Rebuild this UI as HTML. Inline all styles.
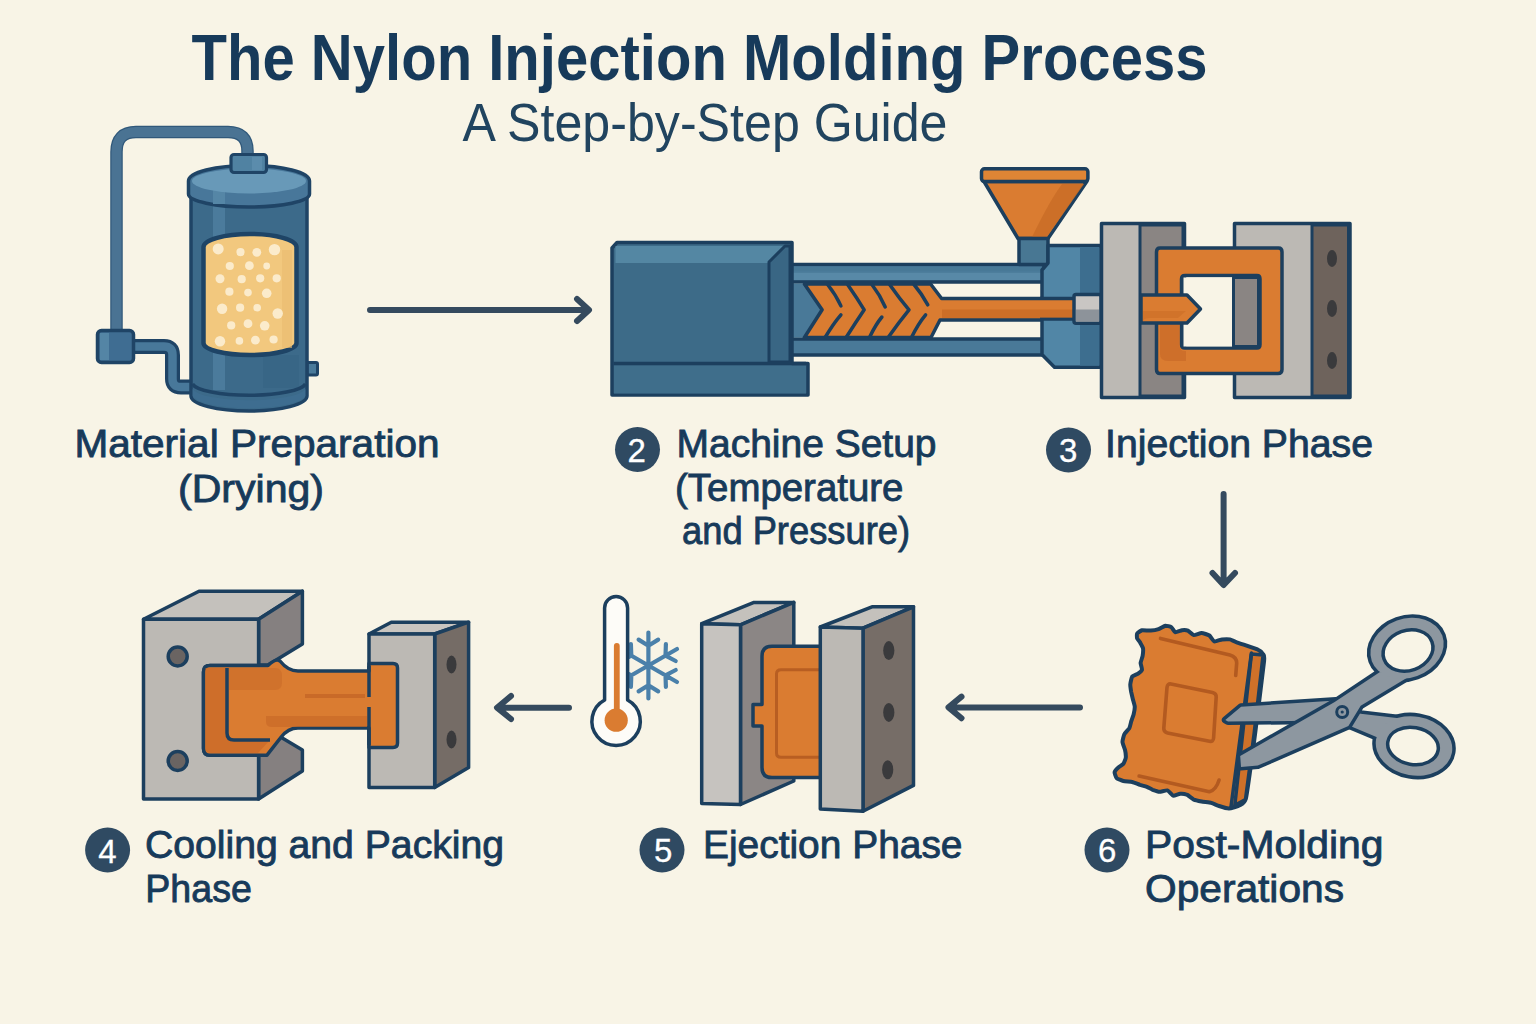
<!DOCTYPE html>
<html><head><meta charset="utf-8">
<style>
html,body{margin:0;padding:0;background:#F8F4E6;}
body{width:1536px;height:1024px;overflow:hidden;}
svg{display:block;}
.t{font-family:"Liberation Sans",sans-serif;fill:#173A5A;}
.lb{font-size:38px;stroke:#173A5A;stroke-width:0.85px;}
.num{font-family:"Liberation Sans",sans-serif;fill:#fff;font-size:33px;stroke:#fff;stroke-width:0.3px;}
</style></head>
<body>
<svg width="1536" height="1024" viewBox="0 0 1536 1024">
<rect width="1536" height="1024" fill="#F8F4E6"/>
<!-- TITLE -->
<text class="t" x="191.5" y="79.8" font-size="64.8" font-weight="bold" textLength="1016" lengthAdjust="spacingAndGlyphs">The Nylon Injection Molding Process</text>
<text class="t" x="462.5" y="140.7" font-size="52.9" textLength="485" lengthAdjust="spacingAndGlyphs" style="fill:#21445F">A Step-by-Step Guide</text>

<!-- ARROWS -->
<g fill="none" stroke="#354A5E" stroke-width="6" stroke-linecap="round" stroke-linejoin="round">
<path d="M370 310 H588 M577 299 L589 310 L577 321"/>
<path d="M1223.6 494 V584 M1212.5 573 L1223.6 585 L1235 573"/>
<path d="M569 707.7 H499 M511 696 L497 707.7 L511 719"/>
<path d="M1080 707.4 H950 M961.5 696.6 L948.5 707.4 L961.5 718.2"/>
</g>

<!-- LABELS -->
<text class="t lb" x="74.5" y="457.0" textLength="365" lengthAdjust="spacingAndGlyphs">Material Preparation</text>
<text class="t lb" x="178" y="502.0" textLength="146" lengthAdjust="spacingAndGlyphs">(Drying)</text>

<circle cx="637.5" cy="449.5" r="22.5" fill="#2F4A62"/>
<text class="num" x="636.7" y="461.7" text-anchor="middle">2</text>
<text class="t lb" x="676.5" y="457.0" textLength="260" lengthAdjust="spacingAndGlyphs">Machine Setup</text>
<text class="t lb" x="675" y="501.0" textLength="228.5" lengthAdjust="spacingAndGlyphs">(Temperature</text>
<text class="t lb" x="682" y="543.5" textLength="228" lengthAdjust="spacingAndGlyphs">and Pressure)</text>

<circle cx="1068.5" cy="450" r="22.5" fill="#2F4A62"/>
<text class="num" x="1068.1" y="462.2" text-anchor="middle">3</text>
<text class="t lb" x="1105" y="457.0" textLength="268" lengthAdjust="spacingAndGlyphs">Injection Phase</text>

<circle cx="107.6" cy="850" r="22.5" fill="#2F4A62"/>
<text class="num" x="107.4" y="862.5" text-anchor="middle">4</text>
<text class="t lb" x="145" y="857.5" textLength="359" lengthAdjust="spacingAndGlyphs">Cooling and Packing</text>
<text class="t lb" x="145.3" y="902.0" textLength="106.5" lengthAdjust="spacingAndGlyphs">Phase</text>

<circle cx="662" cy="850" r="22.5" fill="#2F4A62"/>
<text class="num" x="663.3" y="862" text-anchor="middle">5</text>
<text class="t lb" x="703" y="858.0" textLength="259.5" lengthAdjust="spacingAndGlyphs">Ejection Phase</text>

<circle cx="1107" cy="850" r="22.5" fill="#2F4A62"/>
<text class="num" x="1107.1" y="861.6" text-anchor="middle">6</text>
<text class="t lb" x="1145" y="857.5" textLength="238.5" lengthAdjust="spacingAndGlyphs">Post-Molding</text>
<text class="t lb" x="1145" y="902.0" textLength="199" lengthAdjust="spacingAndGlyphs">Operations</text>


<!-- STEP1 DRYER -->
<g id="dryer" stroke-linejoin="round">
<path d="M116.5 332 V152 Q116.5 132 136 132 H228 Q247.5 132 247.5 151 V156" fill="none" stroke="#30587A" stroke-width="12.5"/>
<path d="M116.5 332 V152 Q116.5 132 136 132 H228 Q247.5 132 247.5 151 V156" fill="none" stroke="#4A7393" stroke-width="10"/>
<path d="M133 346.5 H164 Q172.5 346.5 172.5 355 V379 Q172.5 387 181 387 H193" fill="none" stroke="#1F4466" stroke-width="15"/>
<path d="M133 346.5 H164 Q172.5 346.5 172.5 355 V379 Q172.5 387 181 387 H193" fill="none" stroke="#48789A" stroke-width="8.5"/>
<rect x="97.5" y="330.5" width="36" height="32" rx="4" fill="#3F6D92" stroke="#1F4466" stroke-width="3.5"/>
<rect x="100" y="333" width="9" height="27" fill="#5485A5"/>
<rect x="307" y="362.5" width="10.5" height="12.5" rx="1.5" fill="#4A7A9A" stroke="#1F4466" stroke-width="3"/>
<path d="M191 196 V396 A58 15 0 0 0 307 396 V196 Z" fill="#3C6A8A" stroke="#1F4466" stroke-width="3.5"/>
<rect x="213" y="200" width="12" height="190" fill="#4B7B9C"/>
<rect x="263" y="355" width="36" height="33" fill="#386686"/>
<path d="M192.5 384 A57 13 0 0 0 305.5 384" fill="none" stroke="#1F4466" stroke-width="3.5"/>
<path d="M192.5 389 A57 13 0 0 0 305.5 389 L305.5 396 A57 14 0 0 1 192.5 396 Z" fill="#3F6F93" opacity="0.7"/>
<path d="M188.5 181 A60.5 15.5 0 0 1 309.5 181 L309.5 194 A60.5 13 0 0 1 188.5 194 Z" fill="#48779A" stroke="#1F4466" stroke-width="3.5"/>
<rect x="213" y="188" width="12" height="16" fill="#5586A6" />
<ellipse cx="249" cy="181" rx="57" ry="12.5" fill="#6899B8"/>
<rect x="231" y="154.5" width="35.5" height="18" rx="3" fill="#5082A2" stroke="#1F4466" stroke-width="3.2"/>
<rect x="252" y="157" width="10" height="13" fill="#6293B3" opacity="0.6"/>
<path d="M203.5 247 A46.5 13 0 0 1 296.5 247 V343 A46.5 12 0 0 1 203.5 343 Z" fill="#F2C87E" stroke="#1E4466" stroke-width="4.5"/>
<rect x="282" y="250" width="10" height="98" fill="#E9BA70" opacity="0.6"/>
<g fill="#FBEBCB"><circle cx="218.2" cy="248.9" r="5.5"/><circle cx="240.5" cy="252.1" r="4.1"/><circle cx="256.8" cy="252.3" r="4.4"/><circle cx="274.5" cy="249.6" r="5.7"/><circle cx="229.8" cy="266.0" r="4.1"/><circle cx="249.4" cy="265.7" r="4.4"/><circle cx="266.7" cy="266.0" r="3.4"/><circle cx="220.0" cy="278.7" r="4.5"/><circle cx="241.7" cy="279.2" r="4.1"/><circle cx="260.2" cy="278.3" r="4.1"/><circle cx="276.7" cy="278.3" r="4.1"/><circle cx="229.4" cy="291.7" r="4.1"/><circle cx="248.0" cy="292.6" r="3.8"/><circle cx="266.7" cy="293.3" r="4.8"/><circle cx="222.1" cy="308.8" r="5.2"/><circle cx="240.1" cy="307.7" r="4.1"/><circle cx="257.2" cy="307.7" r="3.8"/><circle cx="277.7" cy="313.5" r="5.2"/><circle cx="231.2" cy="325.4" r="4.1"/><circle cx="248.0" cy="323.7" r="4.4"/><circle cx="264.7" cy="325.8" r="4.8"/><circle cx="220.0" cy="341.2" r="5.2"/><circle cx="239.4" cy="340.9" r="3.8"/><circle cx="255.4" cy="340.2" r="4.4"/><circle cx="273.6" cy="339.5" r="4.1"/></g>
</g>


<!-- STEP2 MACHINE -->
<g id="machine" stroke-linejoin="round">
<!-- barrel rails -->
<rect x="790" y="264.5" width="254" height="17.5" fill="#4D7E9C" stroke="#1C3F5E" stroke-width="3.5"/>
<rect x="792" y="266.5" width="250" height="5" fill="#487997"/>
<rect x="792" y="273" width="250" height="7" fill="#5889A7"/>
<rect x="790" y="339" width="254" height="16" fill="#497998" stroke="#1C3F5E" stroke-width="3.5"/>
<!-- inner region -->
<rect x="792" y="283.5" width="32" height="54" fill="#497998"/>
<!-- screw -->
<path d="M804.4 284 L822.1 309.8 L804.4 337.5 H931 L940 320 H1075 V298.5 H941.6 L930.6 284 Z" fill="#DA7C31" stroke="#1C3F5E" stroke-width="3.5"/>
<rect x="942" y="309.5" width="131" height="8.5" fill="#CC6E27"/>
<g fill="none" stroke="#1C3F5E" stroke-width="3.5" stroke-linecap="round">
<path d="M847.6 284.5 Q857 298 864.2 309.8 Q856 322 846.4 337"/>
<path d="M889.6 284.5 Q899 298 909 309.8 Q899 322 888.5 337"/>
<path d="M827.6 284.5 Q836 295 840.9 305.9"/>
<path d="M825.4 337 Q833 324 840.9 314.8"/>
<path d="M871.9 284.5 Q880 295 885.2 307"/>
<path d="M869.7 337 Q876 324 881.9 317"/>
<path d="M914 284.5 Q922 294 927.8 304.8"/>
<path d="M911.7 337 Q918 324 925.6 314.8"/>
</g>
<!-- main block -->
<path d="M617 242.5 H792 V363.5 H808 V395 H612 V248 Z" fill="#3D6B88" stroke="#1C3F5E" stroke-width="3.5"/>
<path d="M615.5 246 H784 L770 260 V263 H615.5 Z" fill="#5487A3"/>
<path d="M769 262 L785 246 H790 V362 H769 Z" fill="#396684" stroke="#1C3F5E" stroke-width="3"/>
<path d="M613.5 363.5 H806" stroke="#1C3F5E" stroke-width="3.5"/>
<rect x="614" y="366" width="192" height="27.5" fill="#3F6E8B"/>
<!-- hopper -->
<path d="M984 181.5 H1086.8 L1048 238.5 H1018 Z" fill="#DA7C31" stroke="#1C3F5E" stroke-width="3.5"/>
<path d="M1062 184 H1084 L1047 237 H1032 Q1050 200 1062 184 Z" fill="#C96D27" opacity="0.85"/>
<rect x="981.5" y="168.8" width="106.4" height="12.8" rx="3" fill="#DF8535" stroke="#1C3F5E" stroke-width="3.5"/>
<rect x="1019" y="238.5" width="29" height="26" fill="#487793" stroke="#1C3F5E" stroke-width="3.5"/>
<!-- nozzle block -->
<path d="M1048 245.5 H1101 V367.3 H1054.5 L1042 354.5 V270 L1048 263 Z" fill="#5186A6" stroke="#1C3F5E" stroke-width="3.5"/>
<rect x="1080" y="247.5" width="19.5" height="118" fill="#3D6E8F"/>
<!-- rod through nozzle -->
<rect x="1040" y="298.6" width="35" height="20.5" fill="#DA7C31"/><path d="M1040 298.6 H1075 M1040 319.1 H1075" stroke="#1C3F5E" stroke-width="3.5"/>
<rect x="1040" y="309.5" width="34" height="8" fill="#CC6E27"/>
<rect x="1074" y="294.5" width="27" height="28.8" rx="2" fill="#C9C6C3" stroke="#1C3F5E" stroke-width="3.5"/>
<rect x="1076" y="309.5" width="23" height="12" fill="#8D939A"/>
</g>

<!-- STEP3 MOLD -->
<g id="mold" stroke-linejoin="round">
<rect x="1101.5" y="223.5" width="83" height="174" fill="#BCB9B4" stroke="#1C3F5E" stroke-width="3.5"/>
<rect x="1140" y="225" width="43" height="171" fill="#8A8583" stroke="#1C3F5E" stroke-width="3"/>
<rect x="1234.5" y="223.5" width="115.5" height="174" fill="#BCB9B4" stroke="#1C3F5E" stroke-width="3.5"/>
<rect x="1312" y="225" width="36.5" height="171" fill="#6E635C" stroke="#1C3F5E" stroke-width="3"/>
<g fill="#3A3A3C"><ellipse cx="1332" cy="258.5" rx="5" ry="8.5"/><ellipse cx="1332" cy="308.5" rx="5" ry="8.5"/><ellipse cx="1332" cy="360.5" rx="5" ry="8.5"/></g>
<path fill-rule="evenodd" d="M1160 248 H1278.5 Q1282 248 1282 252 V369.5 Q1282 373.5 1278 373.5 H1160 Q1156.5 373.5 1156.5 369.5 V252 Q1156.5 248 1160 248 Z M1185 275.5 H1257 Q1260 275.5 1260 279 V344.5 Q1260 348 1257 348 H1185 Q1181.5 348 1181.5 344.5 V279 Q1181.5 275.5 1185 275.5 Z" fill="#DA7C31" stroke="#1C3F5E" stroke-width="3.5"/>
<rect x="1183.5" y="277.5" width="50" height="69" fill="#F8F4E6"/>
<rect x="1233.5" y="277.5" width="25" height="69" fill="#8A8583" stroke="#1C3F5E" stroke-width="3"/>
<path d="M1160 324 V354 Q1160 361 1168 361 H1186 V351 H1185 Q1179.5 351 1179.5 345 V324 Z" fill="#C96A28" opacity="0.7"/>
<path d="M1141 295 H1187 L1200.5 309 L1187 323 H1141 Z" fill="#DA7C31" stroke="#1C3F5E" stroke-width="3.5"/>
<path d="M1143 311 H1186 L1178 318 H1150 Q1143 318 1143 322 Z" fill="#CC6E27" opacity="0.6"/>
</g>


<!-- STEP4 COOLING BLOCKS -->
<g id="cool" stroke="#1C3F5E" stroke-width="3.5" stroke-linejoin="round">
<!-- right block -->
<path d="M369 634 L391.3 622.2 H468.6 L434.7 634 Z" fill="#C9C5C0"/>
<path d="M434.7 634 L468.6 622.2 V767.5 L434.7 787.4 Z" fill="#756C66"/>
<rect x="369" y="634" width="65.7" height="153.4" fill="#BCB9B4"/>
<g stroke="none" fill="#3A3A3C"><ellipse cx="451.5" cy="664.5" rx="5" ry="9"/><ellipse cx="451.5" cy="739.5" rx="5" ry="9"/></g>
<!-- left block -->
<path d="M143.5 619.3 L199 591.2 H302.4 L258.6 619.3 Z" fill="#C4C1BC"/>
<path d="M258.6 619.3 L302.4 591.2 V644 L268 665 H258.6 Z" fill="#858080"/>
<path d="M258.6 755.2 L281 737.3 L302.4 750 V771 L258.6 799 Z" fill="#858080"/>
<path d="M143.5 619.3 H258.6 V665.4 H210 Q203.5 665.4 203.5 672 V748.5 Q203.5 755.2 210 755.2 H258.6 V799 H143.5 Z" fill="#BCB9B4"/>
<circle cx="177.7" cy="656.4" r="9.5" fill="#6A6462"/>
<circle cx="177.7" cy="760.9" r="9.5" fill="#6A6462"/>
<!-- orange part -->
<path d="M210 665.4 H268 Q276 658 280 661 Q288 671 298 671 H369 V663.5 H393 Q397.5 663.5 397.5 668 V743 Q397.5 747.5 393 747.5 H369 V728 H298 Q288 728 281 737.3 L267 755.2 H210 Q203.5 755.2 203.5 748.5 V672 Q203.5 665.4 210 665.4 Z" fill="#DA7C31"/>
<path stroke="none" d="M205.5 668 H227 V735 Q227 740 233 740 H270 L258 753 H210 Q205.5 753 205.5 748 Z" fill="#C96A28" opacity="0.75"/>
<path stroke="none" d="M229 668 H275 Q282 668 282 676 V683 Q282 690 275 690 H229 Z" fill="#C96A28" opacity="0.55"/>
<path stroke="none" d="M266 716 H367 V727 H272 Q266 727 266 722 Z" fill="#C96A28" opacity="0.7"/>
<path stroke="none" d="M305 694 H365 V698 H305 Z" fill="#C96A28"/>
<path fill="none" d="M227 668 V733 Q227 740 234 740 H270"/>
<path fill="none" d="M369 666 V697 M369 707 V745"/>
</g>


<!-- STEP5 THERMO + EJECTION -->
<g id="eject" stroke="#1C3F5E" stroke-width="3.5" stroke-linejoin="round">
<path d="M648.4 665.5 L648.4 632.5 M648.4 645.7 L638.6 639.6 M648.4 645.7 L658.2 639.6 M648.4 665.5 L619.8 649.0 M631.3 655.6 L621.1 661.0 M631.3 655.6 L630.9 644.1 M648.4 665.5 L619.8 682.0 M631.3 675.4 L630.9 686.9 M631.3 675.4 L621.1 670.0 M648.4 665.5 L648.4 698.5 M648.4 685.3 L658.2 691.4 M648.4 685.3 L638.6 691.4 M648.4 665.5 L677.0 682.0 M665.5 675.4 L675.7 670.0 M665.5 675.4 L665.9 686.9 M648.4 665.5 L677.0 649.0 M665.5 655.6 L665.9 644.1 M665.5 655.6 L675.7 661.0" fill="none" stroke="#4A80AA" stroke-width="4.2" stroke-linecap="round"/>
<path d="M604.6 700 V608 A11.5 11.5 0 0 1 627.6 608 V700 A24.2 24.2 0 1 1 604.6 700 Z" fill="#FDFCF8" stroke-width="3.5"/>
<path d="M616.8 646 V712" fill="none" stroke="#DA7C31" stroke-width="5.8" stroke-linecap="round"/>
<circle cx="616.2" cy="720.2" r="11.6" fill="#DA7C31" stroke="none"/>
<!-- left plate -->
<path d="M701.7 623.7 L754 602.4 H793.8 L740.5 624.8 Z" fill="#C4C1BC"/>
<path d="M740.5 624.8 L793.8 602.4 V781 L740.5 804.5 Z" fill="#8B8685"/>
<path d="M701.7 623.7 L740.5 624.8 V804.5 L701.7 803.4 Z" fill="#C6C3BF"/>
<!-- orange part -->
<path d="M772 646.2 H830 V777.6 H772 Q762 777.6 762 767.6 V726 H753 V704.6 H762 V656.2 Q762 646.2 772 646.2 Z" fill="#DA7C31"/>
<path d="M830 669.7 H781 Q776.5 669.7 776.5 674 V753 Q776.5 757.3 781 757.3 H830" fill="none" stroke="#B85E22" stroke-width="3"/>
<!-- right plate -->
<path d="M820.3 627 L872 606.8 H913.5 L863 628.2 Z" fill="#C4C1BC"/>
<path d="M863 628.2 L913.5 606.8 V785.4 L863 811.2 Z" fill="#766D67"/>
<path d="M820.3 627 L863 628.2 V811.2 L820.3 809 Z" fill="#BCB9B4"/>
<g stroke="none" fill="#3A3A3C"><ellipse cx="888.8" cy="650.6" rx="5.6" ry="9.5"/><ellipse cx="888.8" cy="712.4" rx="5.6" ry="9.5"/><ellipse cx="887.7" cy="769.7" rx="5.6" ry="9.5"/></g>
</g>


<!-- STEP6 POST MOLDING -->
<g id="post" stroke="#1C3F5E" stroke-width="3.5" stroke-linejoin="round" stroke-linecap="round">
<path d="M1137.1 633.6 C1137.5 632.9 1140.9 630.5 1142.0 630.2 C1143.1 630.0 1149.4 630.7 1150.8 630.6 C1152.2 630.5 1157.4 629.5 1158.6 629.1 C1159.8 628.7 1164.4 625.9 1165.4 625.7 C1166.5 625.6 1170.5 626.6 1171.3 627.1 C1172.1 627.6 1174.3 631.9 1175.2 632.2 C1176.1 632.4 1181.0 630.4 1182.0 630.2 C1183.1 630.1 1186.9 630.2 1187.9 630.6 C1188.9 631.0 1192.6 634.9 1193.8 635.1 C1194.9 635.3 1200.3 632.9 1201.6 633.0 C1202.9 633.0 1208.3 634.8 1209.4 635.5 C1210.4 636.2 1213.2 641.0 1214.3 641.4 C1215.3 641.7 1220.8 639.6 1222.1 639.4 C1223.4 639.3 1228.7 639.2 1229.9 639.4 C1231.1 639.7 1234.4 641.5 1236.7 642.3 C1239.1 643.2 1256.0 648.8 1258.2 649.8 C1260.4 650.7 1262.6 653.1 1263.1 654.1 C1263.6 655.0 1264.7 654.4 1264.1 660.9 C1263.4 667.4 1256.8 720.8 1255.3 732.2 C1253.8 743.6 1247.4 791.5 1246.1 797.6 C1244.8 803.7 1241.1 804.5 1239.6 805.4 C1238.2 806.3 1230.6 808.3 1228.9 808.4 C1227.2 808.4 1220.6 806.5 1219.1 806.0 C1217.7 805.6 1212.8 803.3 1211.3 802.9 C1209.9 802.5 1203.0 801.8 1201.6 801.5 C1200.1 801.2 1195.0 800.1 1193.8 799.6 C1192.5 799.0 1188.1 795.2 1186.9 794.7 C1185.8 794.2 1181.2 793.6 1180.1 793.7 C1178.9 793.8 1174.3 795.9 1173.2 795.7 C1172.2 795.4 1168.5 790.7 1167.4 790.4 C1166.2 790.1 1160.8 791.8 1159.6 791.8 C1158.3 791.7 1153.8 790.2 1152.7 789.8 C1151.7 789.4 1147.9 787.3 1146.9 786.9 C1145.8 786.5 1141.3 785.3 1140.0 784.9 C1138.8 784.5 1133.6 782.3 1132.2 782.0 C1130.8 781.7 1124.7 781.3 1123.4 781.0 C1122.1 780.7 1117.3 778.8 1116.6 778.1 C1115.9 777.4 1114.5 773.1 1114.6 772.2 C1114.8 771.3 1117.8 768.0 1118.6 767.3 C1119.3 766.6 1122.8 764.6 1123.4 763.8 C1124.0 763.0 1125.7 758.8 1125.8 757.6 C1125.9 756.4 1125.3 751.1 1125.0 749.8 C1124.7 748.5 1122.5 743.3 1122.5 742.0 C1122.4 740.7 1123.8 735.3 1124.4 734.1 C1125.0 733.0 1128.7 729.3 1129.3 728.3 C1129.9 727.2 1130.9 722.6 1131.2 721.4 C1131.6 720.3 1133.3 715.8 1133.6 714.6 C1133.9 713.4 1134.8 708.1 1134.8 706.8 C1134.7 705.5 1133.1 700.2 1132.8 699.0 C1132.5 697.8 1131.5 693.4 1131.2 692.1 C1131.0 690.9 1130.2 685.6 1130.3 684.3 C1130.4 683.0 1131.6 677.4 1132.2 676.5 C1132.9 675.6 1137.3 674.2 1138.1 673.6 C1138.9 673.0 1141.8 670.6 1142.0 669.7 C1142.2 668.8 1140.6 664.0 1140.6 662.9 C1140.7 661.7 1142.4 657.2 1142.6 656.0 C1142.8 654.8 1143.2 649.3 1143.0 648.2 C1142.8 647.1 1140.5 643.2 1140.0 642.3 C1139.6 641.5 1137.4 639.2 1137.1 638.4 C1136.9 637.7 1136.7 634.2 1137.1 633.6Z" fill="#DA7C31" stroke-width="4"/>
<path d="M1251.4 654.1 L1263.1 655 L1254.3 732.2 L1245.5 799.6 L1234.8 805.4Z" fill="#CF7129"/>
<path d="M1251.4 653.1 L1230.9 807.4" fill="none"/>
<path d="M1171 684 L1212.5 692.4 Q1216.5 693.3 1216.2 697 L1213.6 738 Q1213.3 742 1209.5 741.3 L1167.5 733 Q1163.5 732.2 1163.8 728 L1167 687.5 Q1167.4 683.4 1171 684 Z" fill="none" stroke="#B35A20" stroke-width="3.6"/>
<path d="M1160.5 638.4 L1229.9 655 Q1236.7 657 1236.7 663 L1235.7 675.5" fill="none" stroke="#B35A20" stroke-width="3.6"/>
<path d="M1139.1 776.1 L1209.4 791.8 Q1216 790 1219.1 780" fill="none" stroke="#B35A20" stroke-width="3.6"/>
<!-- scissors outline pass -->
<g fill="#8D97A0" stroke-width="7">
<path d="M1225.3 719.9 L1241.1 706.7 L1336 700.5 L1360.7 713.7 L1405 719 L1386 741 L1348.4 725.2 L1308 720.8 L1228 721.5 Z"/>
<ellipse cx="1414" cy="746" rx="38.5" ry="29.5" transform="rotate(10 1414 746)"/>
</g>
<g fill="#8D97A0" stroke="none">
<path d="M1225.3 719.9 L1241.1 706.7 L1336 700.5 L1360.7 713.7 L1405 719 L1386 741 L1348.4 725.2 L1308 720.8 L1228 721.5 Z"/>
<ellipse cx="1414" cy="746" rx="38.5" ry="29.5" transform="rotate(10 1414 746)"/>
</g>
<ellipse cx="1413" cy="746" rx="25.5" ry="18.5" transform="rotate(10 1413 746)" fill="#F8F4E6"/>
<g fill="#8D97A0" stroke-width="7">
<path d="M1240.2 756 L1334.3 702.3 L1380 672 L1410 676 L1360.7 705.8 L1348.4 726 L1257.8 765.6 L1241 767 Z"/>
<ellipse cx="1407" cy="648" rx="37.5" ry="29.5" transform="rotate(-20 1408 648)"/>
</g>
<g fill="#8D97A0" stroke="none">
<path d="M1240.2 756 L1334.3 702.3 L1380 672 L1410 676 L1360.7 705.8 L1348.4 726 L1257.8 765.6 L1241 767 Z"/>
<ellipse cx="1407" cy="648" rx="37.5" ry="29.5" transform="rotate(-20 1408 648)"/>
</g>
<ellipse cx="1408" cy="650.5" rx="25.5" ry="20" transform="rotate(-20 1408 650.5)" fill="#F8F4E6"/>
<circle cx="1342.2" cy="712" r="5.5" fill="#8D97A0" stroke-width="3"/>
<circle cx="1342.2" cy="712" r="1.6" fill="#1C3F5E" stroke="none"/>
</g>

<!--ILLUSTRATIONS-->
</svg>
</body></html>
